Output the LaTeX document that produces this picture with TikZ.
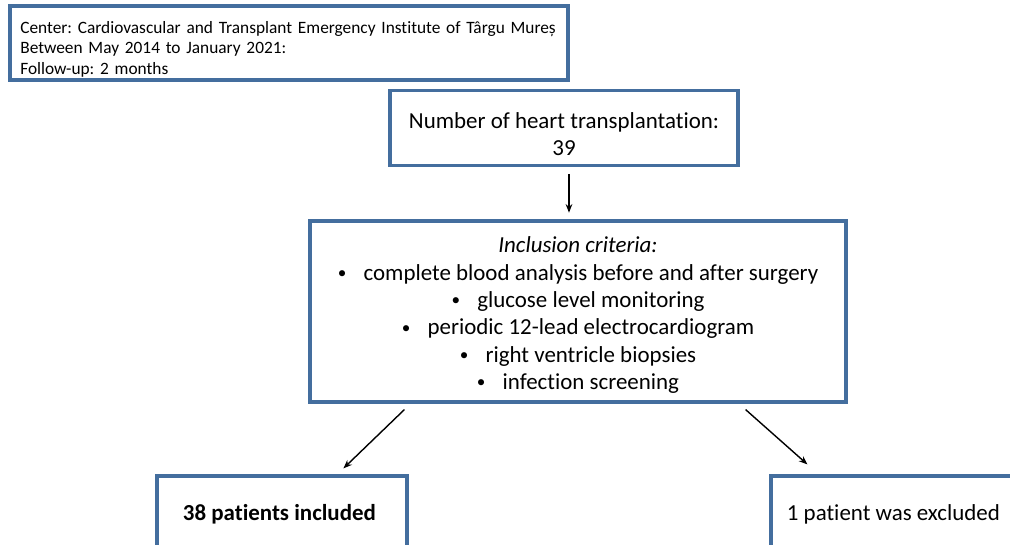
\documentclass[tikz,border=0pt]{standalone}
\usepackage{fontspec}
\setmainfont{Carlito}[Ligatures=NoCommon]
\usetikzlibrary{positioning,calc,arrows.meta}
\definecolor{boxblue}{RGB}{68,110,158}
\newcommand{\puntino}{\raisebox{0.08em}{\scalebox{0.75}{\textbullet}}\hspace{0.75em}}

\begin{document}
\frenchspacing
\begin{tikzpicture}[x=0.75pt, y=-0.75pt,
        box/.style={draw=boxblue, line width=2.4pt, align=center, inner sep=0pt,
            font=\fontsize{17.2}{20.5}\selectfont},
        freccia/.style={->, >={Stealth[length=6.5pt, width=5pt]}, line width=1.05pt}]
        \useasboundingbox (0,0) rectangle (1010,545);

        % Box in alto a sinistra (centro e periodo)
        \node[box, align=left, inner xsep=7.5pt, text width=403pt,
            minimum width=418.5pt, minimum height=55.5pt,
            font=\fontsize{13}{15.4}\selectfont] (center) at (289, 43) {
            \rule{0pt}{18pt}Center: Cardiovascular and Transplant Emergency Institute of Târgu Mureș\\
            Between May 2014 to January 2021:\\
            Follow-up: 2 months
        };

        % Numero di trapianti
        \node[box, minimum width=261pt, minimum height=56.25pt] (transplants) at (564, 128) {
            \rule{0pt}{21pt}Number of heart transplantation:\\
            39
        };

        % Criteri di inclusione
        \node[box, minimum width=402pt, minimum height=135.75pt] (criteria) at (578, 311.5) {
            \rule{0pt}{17.5pt}\textit{Inclusion criteria:}\\
            \puntino complete blood analysis before and after surgery\\
            \puntino glucose level monitoring\\
            \puntino periodic 12-lead electrocardiogram\\
            \puntino right ventricle biopsies\\
            \puntino infection screening
        };

        % Pazienti inclusi ed esclusi
        \node[box, minimum width=187.5pt, minimum height=57pt] (included) at (282, 514) {
            \textbf{38 patients included}
        };
        \node[box, minimum width=187.5pt, minimum height=57pt] (excluded) at (896, 514) {
            1 patient was excluded
        };

        % Frecce
        \draw[freccia, shorten <=5pt, shorten >=5pt] ([xshift=3.75pt]transplants.south)
            -- ([xshift=3.75pt]transplants.south |- criteria.north);
        \draw[freccia] ($(criteria.south west)+(96,6)$) -- ($(included.north west)+(188,-6)$);
        \draw[freccia] ($(criteria.south east)+(-102,6)$) -- ($(excluded.north west)+(38,-10)$);
    \end{tikzpicture}
\end{document}
